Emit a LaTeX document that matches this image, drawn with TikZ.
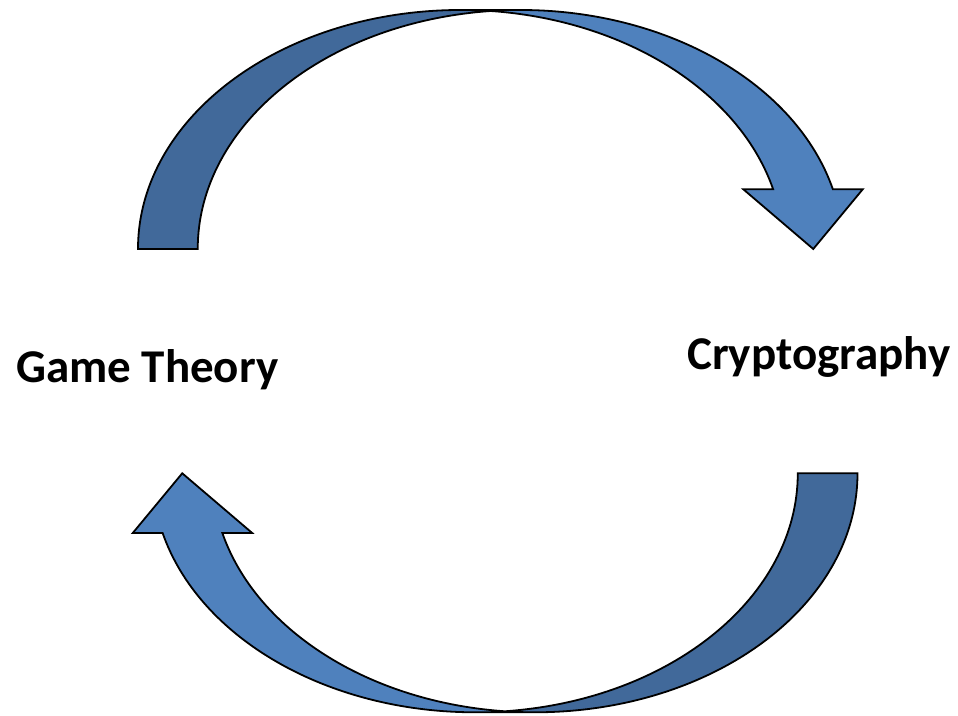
\documentclass[tikz,border=0pt]{standalone}
\usepackage{fontspec}
\setmainfont{Carlito}
\definecolor{arrowlight}{HTML}{4F81BD}
\definecolor{arrowdark}{HTML}{41699A}
% Geometry of one curved band arrow (box 735 x 239, origin at the tail's outer corner):
% ellipse E1 centred at (322.6875,0), ellipse E2 shifted right by the band width 59.75;
% both with radii 322.6875 x 239.
\tikzset{
  ell/.style={x radius=322.6875bp, y radius=239bp},
  outline/.style={draw=black, line width=1.8bp, line join=miter},
  bandarrow/.pic={
    % front (light) band with the arrow head
    \fill[arrowlight] (675.25,0) -- (605.25,59.75) -- (635.13,59.75)
      arc[ell, start angle=14.4775, end angle=90] -- (382.44,239)
      arc[ell, start angle=90, end angle=14.4775] -- (724.76,59.75) -- cycle;
    % back (dark) band of the tail
    \fill[arrowdark] (352.56,237.97)
      arc[ell, start angle=95.312, end angle=180] -- (0,0)
      arc[ell, start angle=180, end angle=84.688] -- cycle;
    % outline
    \draw[outline] (352.56,237.97)
      arc[ell, start angle=95.312, end angle=180] -- (0,0)
      arc[ell, start angle=180, end angle=90] -- (382.44,239)
      arc[ell, start angle=90, end angle=14.4775] -- (724.76,59.75)
      -- (675.25,0) -- (605.25,59.75) -- (635.13,59.75)
      arc[ell, start angle=14.4775, end angle=90];
  },
  label/.style={font=\fontsize{47bp}{56bp}\selectfont\bfseries, inner sep=0pt, anchor=base west}
}
\begin{document}
\begin{tikzpicture}[x=1bp, y=1bp]
  \fill[white] (0,0) rectangle (958,716);
  \useasboundingbox (0,0) rectangle (958,716);
  % upper arrow, pointing to the right label
  \pic at (138,467) {bandarrow};
  % lower arrow, the same shape turned half round
  \pic[rotate=180] at (857.5,242.7) {bandarrow};
  \node[label] (game) at (16,333) {Game Theory};
  \node[label] (crypto) at (687,346) {Cryptography};
\end{tikzpicture}
\end{document}
